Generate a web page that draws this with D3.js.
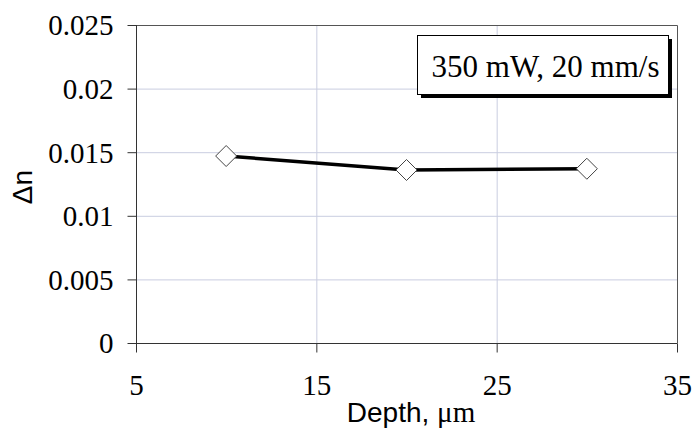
<!DOCTYPE html>
<html><head><meta charset="utf-8">
<script src="https://cdn.jsdelivr.net/npm/d3@7"></script>
<style>body{margin:0;background:#fff}svg{display:block}</style>
</head><body><svg id="c" width="694" height="434"></svg>
<script>
const depths = [10, 20, 30];
const deltaN = [0.0147, 0.0136, 0.0137];
const xTicks = [5, 15, 25, 35];
const yTicks = [0, 0.005, 0.01, 0.015, 0.02, 0.025];
const yTickLabels = ["0", "0.005", "0.01", "0.015", "0.02", "0.025"];
const legendText = "350 mW, 20 mm/s";
const xTitle = "Depth, ";
const xTitleUnit = "\u03bcm";
const yTitle = "\u0394n";

const svg = d3.select("#c");
const L = 136, R = 677, T = 25, B = 343;
const x = d3.scaleLinear().domain([5, 35]).range([L, R]);
const y = d3.scaleLinear().domain([0, 0.025]).range([B, T]);
const serif = "'Liberation Serif','Times New Roman',serif";
const sans = "'Liberation Sans',Arial,sans-serif";

// gridlines
svg.append("g").selectAll("line").data(yTicks.filter(d => d > 0 && d < 0.025)).join("line")
  .attr("x1", L).attr("x2", R).attr("y1", d => y(d) + 0.5).attr("y2", d => y(d) + 0.5)
  .attr("stroke", "#c9cde0").attr("stroke-width", 1);
svg.append("g").selectAll("line").data(xTicks.filter(d => d > 5 && d < 35)).join("line")
  .attr("y1", T).attr("y2", B).attr("x1", d => x(d) + 0.5).attr("x2", d => x(d) + 0.5)
  .attr("stroke", "#c9cde0").attr("stroke-width", 1);

// frame (top and right)
svg.append("path").attr("d", `M${L},${T + 0.5}H${R + 0.5}V${B}`)
  .attr("fill", "none").attr("stroke", "#555").attr("stroke-width", 1);

// axes
const yAxis = d3.axisLeft(y).tickValues(yTicks).tickSize(9).tickPadding(14)
  .tickFormat((d, i) => yTickLabels[i]);
const gy = svg.append("g").attr("transform", `translate(${L + 0.5},0)`).call(yAxis);
const xAxis = d3.axisBottom(x).tickValues(xTicks).tickSize(9).tickPadding(22).tickFormat(d3.format("d"));
const gx = svg.append("g").attr("transform", `translate(0,${B + 0.5})`).call(xAxis);
[gx, gy].forEach(g => {
  g.select(".domain").remove();
  g.selectAll(".tick line").attr("stroke", "#333");
  g.selectAll("text").attr("font-family", serif).attr("font-size", 29).attr("fill", "#000");
});
svg.append("line").attr("x1", L + 0.5).attr("x2", L + 0.5).attr("y1", T).attr("y2", B + 0.5).attr("stroke", "#333");
svg.append("line").attr("x1", L).attr("x2", R + 0.5).attr("y1", B + 0.5).attr("y2", B + 0.5).attr("stroke", "#333");
gy.selectAll("text").attr("dy", "0.34em");
gx.selectAll("text").attr("dy", "0.71em");

// titles
const xt = svg.append("text").attr("x", 411).attr("y", 422).attr("text-anchor", "middle")
  .attr("font-family", sans).attr("font-size", 28);
xt.append("tspan").text(xTitle);
xt.append("tspan").attr("font-family", serif).attr("font-size", 29).text(xTitleUnit);
svg.append("text").attr("transform", "translate(32,187) rotate(-90)").attr("text-anchor", "middle")
  .attr("font-family", sans).attr("font-size", 28).text(yTitle);

// line + markers
const data = depths.map((d, i) => ({x: d, y: deltaN[i]}));
svg.append("path").datum(data)
  .attr("d", d3.line().x(d => x(d.x)).y(d => y(d.y)))
  .attr("fill", "none").attr("stroke", "#000").attr("stroke-width", 3.5);
svg.append("g").selectAll("path").data(data).join("path")
  .attr("transform", d => `translate(${x(d.x)},${y(d.y)})`)
  .attr("d", "M0,-10.5L10.5,0L0,10.5L-10.5,0Z")
  .attr("fill", "#fff").attr("stroke", "#444").attr("stroke-width", 1);

// legend box with shadow
const bx = 417, by = 35, bw = 251, bh = 59;
svg.append("rect").attr("x", bx + 4).attr("y", by + 4).attr("width", bw).attr("height", bh).attr("fill", "#000");
svg.append("rect").attr("x", bx + 0.5).attr("y", by + 0.5).attr("width", bw).attr("height", bh)
  .attr("fill", "#fff").attr("stroke", "#000").attr("stroke-width", 1);
svg.append("text").attr("x", bx + bw / 2 + 3).attr("y", 77).attr("text-anchor", "middle")
  .attr("font-family", serif).attr("font-size", 31).text(legendText);
</script></body></html>
